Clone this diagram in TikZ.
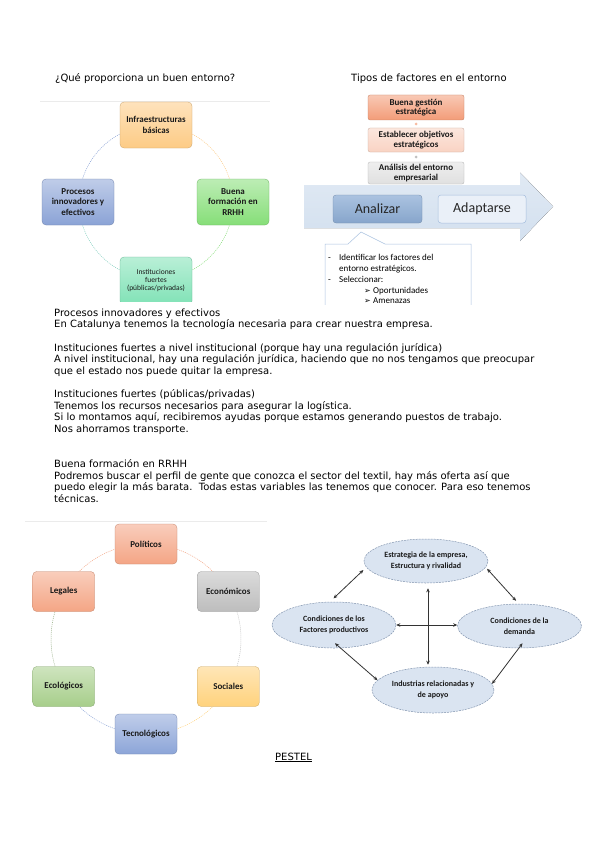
\documentclass[tikz,border=0pt]{standalone}
\usepackage{fontspec}
\setmainfont{DejaVu Sans}
\newfontfamily\carlito{Carlito}
\newfontfamily\djv{DejaVu Sans}
\usetikzlibrary{shapes.geometric,arrows.meta,calc}
\definecolor{cInfra}{HTML}{FDCB85}
\definecolor{cProc}{HTML}{8BA3D6}
\definecolor{cForm}{HTML}{86DE78}
\definecolor{cInst}{HTML}{80E2B6}
\definecolor{cGest}{HTML}{F39C78}
\definecolor{cObj}{HTML}{F9D3C3}
\definecolor{cAnal}{HTML}{E0E0E0}
\definecolor{cArrow}{HTML}{D3E0EF}
\definecolor{cAnz}{HTML}{8EAED6}
\definecolor{cAdp}{HTML}{EAF0F8}
\definecolor{cPol}{HTML}{F4A585}
\definecolor{cEco}{HTML}{BDBDBD}
\definecolor{cSoc}{HTML}{FFD27C}
\definecolor{cTec}{HTML}{8CA5D8}
\definecolor{cEcl}{HTML}{A6CE8A}
\definecolor{cPor}{HTML}{DAE4F1}
\definecolor{cPorB}{HTML}{8496B0}
\tikzset{
  txt/.style={anchor=base west, inner sep=0pt, font=\djv\fontsize{10}{11.65}\selectfont},
  ctxt/.style={anchor=base west, inner sep=0pt, font=\carlito\fontsize{9}{11}\selectfont},
  shbox/.style={rounded corners=4pt, top color=#1!55!white, bottom color=#1, draw=#1!80!black, line width=0.3pt,
     align=center, inner sep=1pt, text=black!90, font=\carlito\bfseries\fontsize{9}{10.5}\selectfont},
  cycbox/.style={shbox=#1, minimum width=72pt, minimum height=46pt},
  pbox/.style={shbox=#1, minimum width=62pt, minimum height=40pt},
  fbox/.style={shbox=#1, minimum width=96pt, rounded corners=2pt, font=\carlito\bfseries\fontsize{9}{9.5}\selectfont},
  cyc/.style={draw=#1, dash pattern=on 1pt off 1pt, line width=0.5pt},
  pell/.style={ellipse, fill=cPor, draw=cPorB, dash pattern=on 2pt off 1pt, line width=0.5pt, minimum width=124pt,
     minimum height=44pt, inner sep=0pt, align=center, text=black!90, font=\carlito\bfseries\fontsize{8}{11.5}\selectfont},
  parr/.style={{Stealth[length=4pt,width=3.5pt]}-{Stealth[length=4pt,width=3.5pt]}, line width=0.8pt, draw=black!80},
  sdot/.style={circle, inner sep=0pt, minimum size=3pt, fill=#1},
}
\begin{document}
\begin{tikzpicture}[x=1pt,y=-1pt]
\useasboundingbox[fill=white] (0,0) rectangle (599,848);

% ---------- top-left diagram ----------
\node[txt] (t1) at (55,81.5) {¿Qué proporciona un buen entorno?};
\begin{scope}
\clip (0,90) rectangle (300,301);
\draw[black!8, line width=0.8pt] (40,101) -- (270,101);
\coordinate (cc) at (156,202);
\draw[cyc=cInfra] (cc) ++(270:77) arc[start angle=270, end angle=360, radius=77];
\draw[cyc=cForm] (cc) ++(0:77) arc[start angle=0, end angle=90, radius=77];
\draw[cyc=cInst!70!cProc] (cc) ++(90:77) arc[start angle=90, end angle=180, radius=77];
\draw[cyc=cProc] (cc) ++(180:77) arc[start angle=180, end angle=270, radius=77];
\node[cycbox=cInfra] (infra) at (156,125) {Infraestructuras\\básicas};
\node[cycbox=cProc] (proc) at (78,202) {Procesos\\innovadores y\\efectivos};
\node[cycbox=cForm] (form) at (233,202) {Buena\\formación en\\RRHH};
\node[cycbox=cInst, minimum height=48pt, font=\carlito\fontsize{7.5}{8}\selectfont] (inst) at (156,281)
  {Instituciones\\fuertes\\(públicas/privadas)};
\end{scope}

% ---------- top-right diagram ----------
\node[txt] (t2) at (351,81.5) {Tipos de factores en el entorno};
\begin{scope}
\clip (290,90) rectangle (599,304.5);
\node[fbox=cGest, minimum height=25pt] (gest) at (416,107.5) {Buena gestión\\estratégica};
\node[fbox=cObj, minimum height=24pt] (obj) at (416,140) {Establecer objetivos\\estratégicos};
\node[fbox=cAnal, minimum height=22pt] (anal) at (416,173) {Análisis del entorno\\empresarial};
\path (gest.south) -- node[sdot=cGest!70] (d1) {} (obj.north);
\path (obj.south) -- node[sdot=black!25] (d2) {} (anal.north);
\fill[top color=cArrow!70!white, bottom color=cArrow] (304,185) -- (520,185) -- (520,172.5) -- (553,206.5)
   -- (520,241) -- (520,228) -- (304,228) -- cycle;
\node[rounded corners=3pt, top color=cAnz!75!white, bottom color=cAnz!95!black, draw=cAnz!80!black, line width=0.3pt,
   minimum width=89pt, minimum height=28pt, inner sep=0pt, text=black!85,
   font=\carlito\fontsize{14}{16}\selectfont] (anz) at (377.5,209) {Analizar};
\node[rounded corners=3pt, fill=cAdp, draw=cAnz!80, line width=0.5pt,
   minimum width=88pt, minimum height=28pt, inner sep=0pt, text=black!85,
   font=\carlito\fontsize{14}{16}\selectfont] (adp) at (482,209) {Adaptarse};
\filldraw[fill=white, draw=cAnz!75, line width=0.5pt] (325,306) -- (325,244) -- (348,244) -- (361,232)
   -- (385,244) -- (471,244) -- (471,306);
\node[ctxt] (b1) at (328,260) {-};
\node[ctxt] (b2) at (339,260) {Identificar los factores del};
\node[ctxt] (b3) at (339,271) {entorno estratégicos.};
\node[ctxt] (b4) at (328,282) {-};
\node[ctxt] (b5) at (339,282) {Seleccionar:};
\node[ctxt, font=\djv\fontsize{8}{9}\selectfont] (b6) at (364,293) {➢};
\node[ctxt] (b7) at (373,293) {Oportunidades};
\node[ctxt, font=\djv\fontsize{8}{9}\selectfont] (b8) at (364,303.5) {➢};
\node[ctxt] (b9) at (373,303.5) {Amenazas};
\end{scope}

% ---------- body text ----------
\node[txt] (p1) at (54,316) {Procesos innovadores y efectivos};
\node[txt] (p2) at (54,327.65) {En Catalunya tenemos la tecnología necesaria para crear nuestra empresa.};
\node[txt] (p3) at (54,351) {Instituciones fuertes a nivel institucional (porque hay una regulación jurídica)};
\node[txt] (p4) at (54,362.6) {A nivel institucional, hay una regulación jurídica, haciendo que no nos tengamos que preocupar};
\node[txt] (p5) at (54,374.25) {que el estado nos puede quitar la empresa.};
\node[txt] (p6) at (54,397.55) {Instituciones fuertes (públicas/privadas)};
\node[txt] (p7) at (54,409.2) {Tenemos los recursos necesarios para asegurar la logística.};
\node[txt] (p8) at (54,420.85) {Si lo montamos aquí, recibiremos ayudas porque estamos generando puestos de trabajo.};
\node[txt] (p9) at (54,432.5) {Nos ahorramos transporte.};
\node[txt] (p10) at (54,467.45) {Buena formación en RRHH};
\node[txt] (p11) at (54,479.1) {Podremos buscar el perfil de gente que conozca el sector del textil, hay más oferta así que};
\node[txt] (p12) at (54,490.75) {puedo elegir la más barata.\ \ Todas estas variables las tenemos que conocer. Para eso tenemos};
\node[txt] (p13) at (54,502.4) {técnicas.};

% ---------- PESTEL ----------
\draw[black!8, line width=0.8pt] (25,521) -- (267,521);
\coordinate (pc) at (146,639);
\draw[cyc=cPol] (pc) ++(-90:95) arc[start angle=-90, end angle=-30, radius=95];
\draw[cyc=cEco] (pc) ++(-30:95) arc[start angle=-30, end angle=30, radius=95];
\draw[cyc=cSoc] (pc) ++(30:95) arc[start angle=30, end angle=90, radius=95];
\draw[cyc=cTec] (pc) ++(90:95) arc[start angle=90, end angle=150, radius=95];
\draw[cyc=cEcl!60!gray] (pc) ++(150:95) arc[start angle=150, end angle=210, radius=95];
\draw[cyc=cPol] (pc) ++(210:95) arc[start angle=210, end angle=270, radius=95];
\node[pbox=cPol] (pol) at ($(pc)+(-90:95)$) {Políticos};
\node[pbox=cEco] (eco) at ($(pc)+(-30:95)$) {Económicos};
\node[pbox=cSoc] (soc) at ($(pc)+(30:95)$) {Sociales};
\node[pbox=cTec] (tec) at ($(pc)+(90:95)$) {Tecnológicos};
\node[pbox=cEcl] (ecl) at ($(pc)+(150:95)$) {Ecológicos};
\node[pbox=cPol] (leg) at ($(pc)+(210:95)$) {Legales};
\node[txt, font=\djv\fontsize{10}{12}\selectfont] (pestel) at (275,760) {\underline{PESTEL}};

% ---------- Porter diamond ----------
\node[pell] (ptop) at (426,561) {Estrategia de la empresa,\\Estructura y rivalidad};
\node[pell, minimum height=46pt] (pleft) at (334,625) {Condiciones de los\\Factores productivos};
\node[pell] (pright) at (519.5,626) {Condiciones de la\\demanda};
\node[pell, minimum width=122pt, minimum height=46pt] (pbot) at (433,690) {Industrias relacionadas y\\de apoyo};
\draw[parr, shorten <=5pt, shorten >=4pt] (pleft.100) -- (ptop.186);
\draw[parr, shorten <=2pt, shorten >=4pt] (ptop.354) -- (pright.92);
\draw[parr] (pleft.east) -- (pleft.east -| pright.west);
\draw[parr, shorten <=5pt, shorten >=2pt] ([xshift=2pt]ptop.south) -- ([xshift=2pt]ptop.south |- pbot.north);
\draw[parr] ($(pleft.south)+(1,-5)$) -- (pbot.170);
\draw[parr] ($(pright.south)+(3,-5)$) -- (pbot.6);
\end{tikzpicture}
\end{document}
